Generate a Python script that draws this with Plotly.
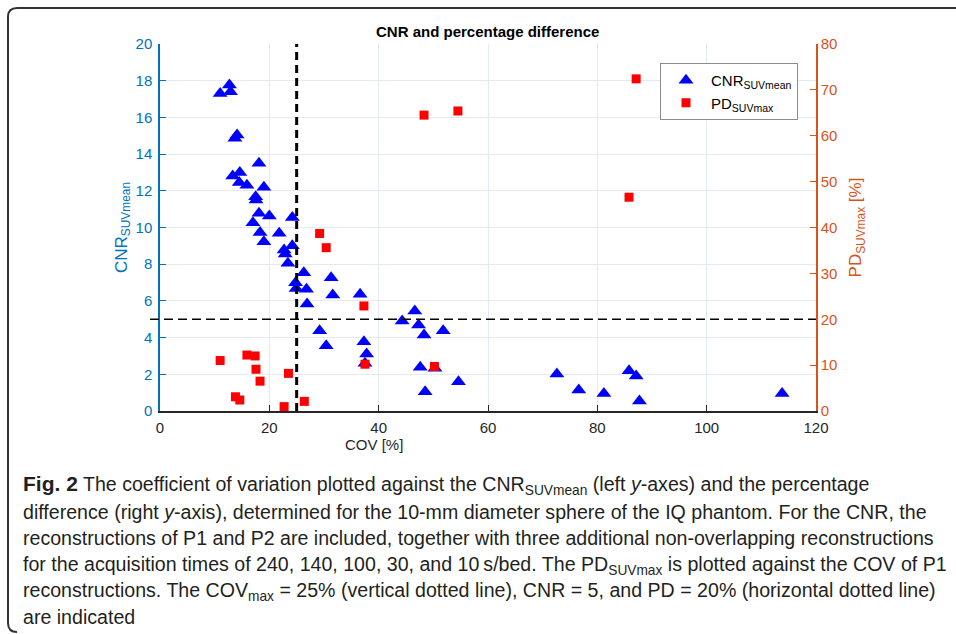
import plotly.graph_objects as go

# ---------------- data ----------------
cnr_cov = [12.7, 11.0, 12.9, 14.1, 13.7, 18.1, 13.3, 14.6, 14.5, 15.9, 19.0, 17.5, 17.56,
           18.1, 20.0, 24.2, 17.0, 18.3, 21.8, 19.0, 24.2, 22.7, 22.9, 23.4, 26.3, 24.8,
           26.8, 24.9, 31.3, 31.6, 26.9, 29.2, 30.4, 36.6, 46.6, 44.3, 47.3, 48.3, 51.8,
           37.3, 37.8, 37.5, 47.6, 50.3, 54.6, 48.5, 72.6, 76.6, 81.2, 85.8, 87.1, 87.7, 113.8]
cnr_val = [17.77, 17.3, 17.4, 15.04, 14.86, 13.5, 12.8, 13.0, 12.45, 12.3, 12.2, 11.68, 11.5,
           10.77, 10.63, 10.55, 10.26, 9.73, 9.68, 9.23, 9.0, 8.77, 8.56, 8.05, 7.54, 6.99,
           6.63, 6.68, 7.26, 6.32, 5.83, 4.38, 3.56, 6.36, 5.45, 4.9, 4.69, 4.14, 4.38,
           3.78, 3.1, 2.6, 2.38, 2.33, 1.6, 1.05, 2.02, 1.14, 0.96, 2.2, 1.91, 0.54, 0.96]

pd_cov = [29.2, 30.4, 11.0, 15.9, 17.4, 17.56, 18.3, 23.5, 13.8, 14.6, 22.7, 26.4,
          37.3, 37.5, 50.2, 87.1, 85.8, 48.3, 54.5]
pd_val = [38.7, 35.6, 11.0, 12.2, 12.0, 9.1, 6.5, 8.2, 3.1, 2.4, 0.95, 2.1,
          22.9, 10.2, 9.7, 72.4, 46.6, 64.5, 65.4]

cov_max = 25
cnr_thr = 5

x_ticks = [0, 20, 40, 60, 80, 100, 120]
y_left_ticks = list(range(0, 21, 2))
y_right_ticks = list(range(0, 81, 10))

caption_lines = [
    "<b><span style='font-size:21px'>Fig. 2</span></b> The coefficient of variation plotted against the CNR<sub>SUVmean</sub> (left <i>y</i>-axes) and the percentage",
    "difference (right <i>y</i>-axis), determined for the 10-mm diameter sphere of the IQ phantom. For the CNR, the",
    "reconstructions of P1 and P2 are included, together with three additional non-overlapping reconstructions",
    "for the acquisition times of 240, 140, 100, 30, and 10\u2009s/bed. The PD<sub>SUVmax</sub> is plotted against the COV of P1",
    "reconstructions. The COV<sub>max</sub> = 25% (vertical dotted line), CNR = 5, and PD = 20% (horizontal dotted line)",
    "are indicated",
]

# ---------------- layout geometry ----------------
W, H = 956, 634
L, R, T, B = 160, 816, 44, 411  # plot area in pixels


def px(xp):
    return (xp - L) / (R - L)


def py(yp):
    return (B - yp) / (B - T)


BLUE_AX = "#0072BD"
ORANGE_AX = "#D95319"
GRID = "#E4EAF1"
FONT = "Liberation Sans, Arial, Helvetica, sans-serif"

fig = go.Figure()
fig.add_trace(go.Scatter(
    x=cnr_cov, y=cnr_val, mode="markers", name="CNR<sub>SUVmean</sub>",
    marker=dict(symbol="triangle-up", size=13, color="#0000FF"),
    yaxis="y", cliponaxis=False))
fig.add_trace(go.Scatter(
    x=pd_cov, y=pd_val, mode="markers", name="PD<sub>SUVmax</sub>",
    marker=dict(symbol="square", size=9, color="#FF0000"),
    yaxis="y2", cliponaxis=False))

shapes = [
    dict(type="line", xref="x", yref="paper", x0=cov_max, x1=cov_max, y0=0, y1=1,
         line=dict(color="black", width=3, dash="8px,5px"), layer="above"),
    dict(type="line", xref="paper", yref="y", x0=px(150), x1=1, y0=cnr_thr, y1=cnr_thr,
         line=dict(color="black", width=1.3, dash="9px,5px"), layer="above"),
]

# figure frame (rounded left corners)
r = 9
x_l, y_t, y_b = 8, 8, 632
path = (f"M {px(W + 5)},{py(y_t)} L {px(x_l + r)},{py(y_t)} "
        f"Q {px(x_l)},{py(y_t)} {px(x_l)},{py(y_t + r)} "
        f"L {px(x_l)},{py(y_b - r)} Q {px(x_l)},{py(y_b)} {px(x_l + r)},{py(y_b)}")
shapes.append(dict(type="path", xref="paper", yref="paper", path=path,
                   line=dict(color="#333333", width=2)))

annotations = [
    dict(text="<b>CNR and percentage difference</b>", xref="paper", yref="paper",
         x=px(487), y=py(31), xanchor="center", yanchor="middle", showarrow=False,
         font=dict(size=15, color="black", family=FONT)),
    dict(text="COV [%]", xref="paper", yref="paper", x=px(374), y=py(444),
         xanchor="center", yanchor="middle", showarrow=False,
         font=dict(size=15, color="#262626", family=FONT)),
]

cap_y = [485, 512, 538, 565, 591, 617]
for line, yy in zip(caption_lines, cap_y):
    annotations.append(dict(text=line, xref="paper", yref="paper", x=px(21), y=py(yy),
                            xanchor="left", yanchor="middle", showarrow=False,
                            font=dict(size=19.6, color="#231F20", family="Liberation Sans")))

fig.update_layout(
    width=W, height=H,
    margin=dict(l=L, r=W - R, t=T, b=H - B, pad=0),
    paper_bgcolor="white", plot_bgcolor="white",
    font=dict(family=FONT, size=15),
    showlegend=True,
    legend=dict(x=px(660), y=py(63), xanchor="left", yanchor="top",
                bgcolor="white", bordercolor="#8C8C8C", borderwidth=1,
                font=dict(size=15, color="black", family=FONT),
                itemwidth=40, tracegroupgap=0),
    xaxis=dict(range=[0, 120], tickvals=x_ticks, ticktext=[str(v) for v in x_ticks],
               showgrid=True, gridcolor=GRID, gridwidth=1, zeroline=False,
               showline=True, linecolor="#262626", linewidth=1.5,
               ticks="inside", ticklen=6, tickcolor="#262626", ticklabelstandoff=2,
               tickfont=dict(size=15, color="#262626")),
    yaxis=dict(range=[0, 20], tickvals=y_left_ticks, showgrid=True, gridcolor=GRID,
               zeroline=False, showline=True, linecolor=BLUE_AX, linewidth=1.5,
               ticks="inside", ticklen=6, tickcolor=BLUE_AX, ticklabelstandoff=3,
               tickfont=dict(size=15, color=BLUE_AX),
               title=dict(text="CNR<sub>SUVmean</sub>", font=dict(size=17, color=BLUE_AX),
                          standoff=4)),
    yaxis2=dict(range=[0, 80], tickvals=y_right_ticks, overlaying="y", side="right",
                showgrid=False, zeroline=False, showline=True, linecolor=ORANGE_AX,
                linewidth=1.5, ticks="inside", ticklen=6, tickcolor=ORANGE_AX,
                tickfont=dict(size=15, color=ORANGE_AX),
                title=dict(text="PD<sub>SUVmax</sub> [%]", font=dict(size=17, color=ORANGE_AX),
                           standoff=13)),
    shapes=shapes,
    annotations=annotations,
)

fig.write_html("out.html", config={"displayModeBar": False},
               post_script="document.body.style.margin='0';document.body.style.padding='0';")
